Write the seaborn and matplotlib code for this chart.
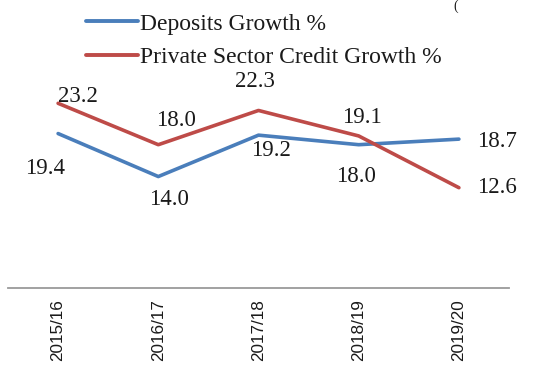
import matplotlib
matplotlib.use("Agg")
import matplotlib.pyplot as plt
import seaborn as sns
import pandas as pd

years = ["2015/16", "2016/17", "2017/18", "2018/19", "2019/20"]
deposits = [19.4, 14.0, 19.2, 18.0, 18.7]
credit = [23.2, 18.0, 22.3, 19.1, 12.6]
series_names = ["Deposits Growth %", "Private Sector Credit Growth %"]
colors = ["#4a7ebb", "#be4b48"]

df = pd.DataFrame({
    "year": years * 2,
    "idx": list(range(len(years))) * 2,
    "value": deposits + credit,
    "series": [series_names[0]] * len(years) + [series_names[1]] * len(years),
})

sns.set_theme(style="white")
serif = ["Liberation Serif", "DejaVu Serif"]
sans = ["Liberation Sans", "DejaVu Sans"]

W, H = 546, 366
fig = plt.figure(figsize=(W / 100, H / 100), dpi=100)
ax = fig.add_axes([8 / W, (H - 288) / H, (509 - 8) / W, 286.6 / H])

sns.lineplot(data=df, x="idx", y="value", hue="series", palette=colors,
             linewidth=2.6, ax=ax, legend=True, sort=False)

ax.set_xlim(-0.5, len(years) - 0.5)
ax.set_ylim(0, 36)
ax.set_xticks(range(len(years)))
ax.set_xticklabels(years, rotation=90, fontsize=12.3, family=sans, color="#1a1a1a")
ax.tick_params(axis="x", length=0, pad=8)
ax.set_yticks([])
ax.set_xlabel("")
ax.set_ylabel("")
for side in ["top", "left", "right"]:
    ax.spines[side].set_visible(False)
ax.spines["bottom"].set_color("#9a9a9a")
ax.spines["bottom"].set_linewidth(1.3)

# value labels, offsets in pixels from each point
dep_off = [(-13, -35), (11, -23), (12, -15), (-3, -32), (38, -2)]
cred_off = [(20, 7), (18, 24), (-4, 29), (3, 18), (38, 0)]
for vals, offs in [(deposits, dep_off), (credit, cred_off)]:
    for i, (v, (dx, dy)) in enumerate(zip(vals, offs)):
        ax.annotate(f"{v:.1f}", (i, v), xytext=(dx, dy), textcoords="offset pixels",
                    ha="center", va="center", fontsize=16.5, family=serif,
                    color="#1a1a1a")

leg = ax.legend(loc="upper left", bbox_to_anchor=(86 / W, 1 - 13 / H),
                bbox_transform=fig.transFigure, frameon=False,
                prop={"family": serif, "size": 17}, handlelength=2.2,
                handletextpad=0.1, labelspacing=0.52, borderpad=0, borderaxespad=0)
for line in leg.get_lines():
    line.set_linewidth(2.8)
for t in leg.get_texts():
    t.set_color("#1a1a1a")

fig.text(453 / W, 1.0, "(", family=serif, fontsize=10, va="top", ha="left",
         color="#1a1a1a")

fig.savefig("out.png", dpi=100)
